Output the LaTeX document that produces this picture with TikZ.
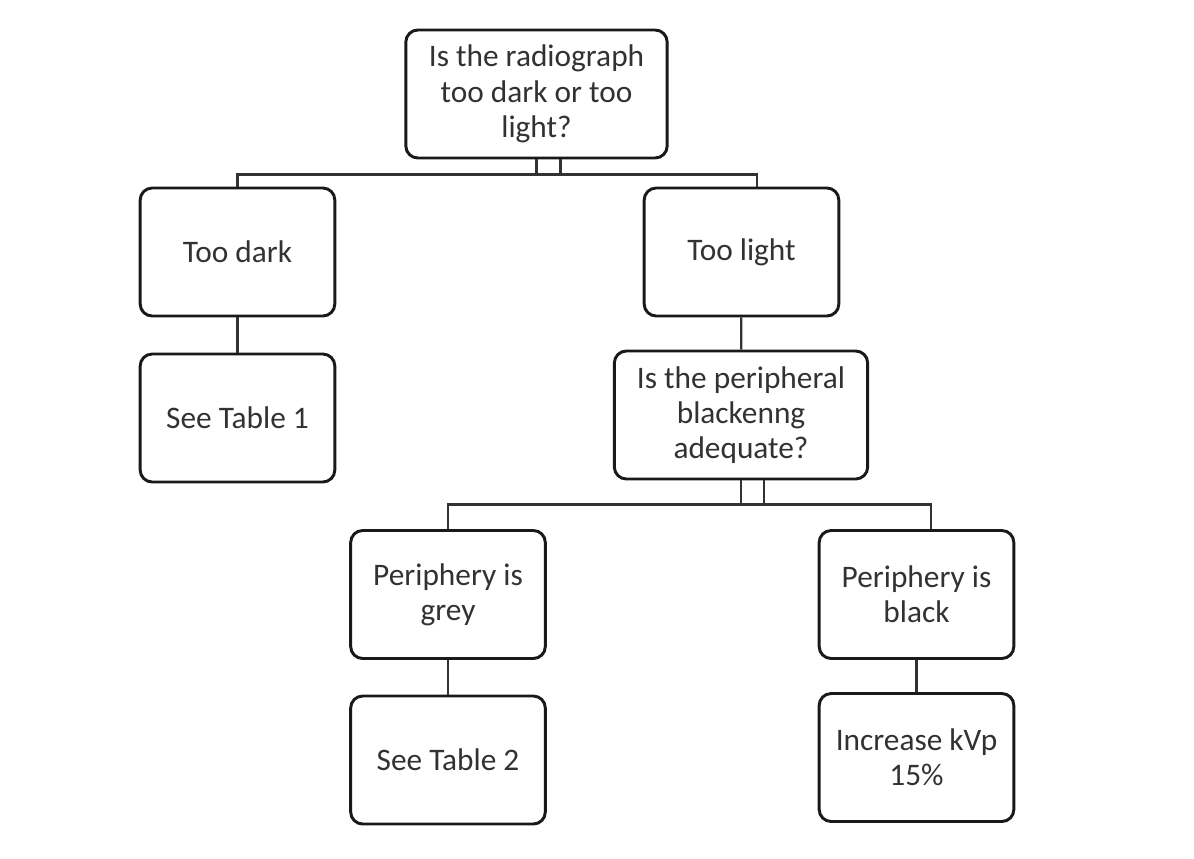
\documentclass[tikz,border=0pt]{standalone}
\usepackage{fontspec}
\setmainfont{Carlito}
\usetikzlibrary{positioning}
\definecolor{boxline}{RGB}{25,25,25}
\definecolor{linkgray}{RGB}{50,50,50}
\definecolor{textgray}{RGB}{50,50,50}
\tikzset{
    % Define standard node styles
    flowbox/.style={
        rectangle, draw=boxline, line width=2.2pt, fill=white,
        align=center, minimum width=146pt, minimum height=96pt,
        rounded corners=9pt, inner sep=2pt,
        font=\fontsize{23.5}{26.5}\selectfont, text=textgray
    },
    questionbox/.style={
        flowbox, minimum width=#1
    },
    link/.style={
        draw=linkgray, line width=1.6pt
    }
}
\begin{document}
\begin{tikzpicture}[x=0.75pt, y=-0.75pt]
\useasboundingbox (0,0) rectangle (1194,858);

% question nodes
\node[questionbox=196pt] (question) at (536.5,94) {Is the radiograph\\too dark or too\\light?};
\node[questionbox=190pt] (periph) at (741,415) {Is the peripheral\\blackenng\\adequate?};

% answer nodes
\node[flowbox] (dark) at (237.5,252) {Too dark};
\node[flowbox] (table1) at (237.5,418) {See Table 1};
\node[flowbox] (light) at (741.5,252) {Too light};
\node[flowbox] (grey) at (448,594.5) {Periphery is\\grey};
\node[flowbox] (table2) at (448,760) {See Table 2};
\node[flowbox] (black) at (916.5,594.5) {Periphery is\\black};
\node[flowbox] (kvp) at (916.5,757.5) {Increase kVp\\15\%};

% connectors
\draw[link] ([xshift=18pt]question.south) -- ++(0,15) -| (dark.north);
\draw[link] (question.south) -- ++(0,15) -| ([xshift=11.5pt]light.north);
\draw[link] (dark) -- (table1);
\draw[link] (light) -- (periph);
\draw[link] ([xshift=17pt]periph.south) -- ++(0,24) -| (grey.north);
\draw[link] (periph.south) -- ++(0,24) -| ([xshift=11pt]black.north);
\draw[link] (grey) -- (table2);
\draw[link] (black) -- (kvp);

\end{tikzpicture}
\end{document}
